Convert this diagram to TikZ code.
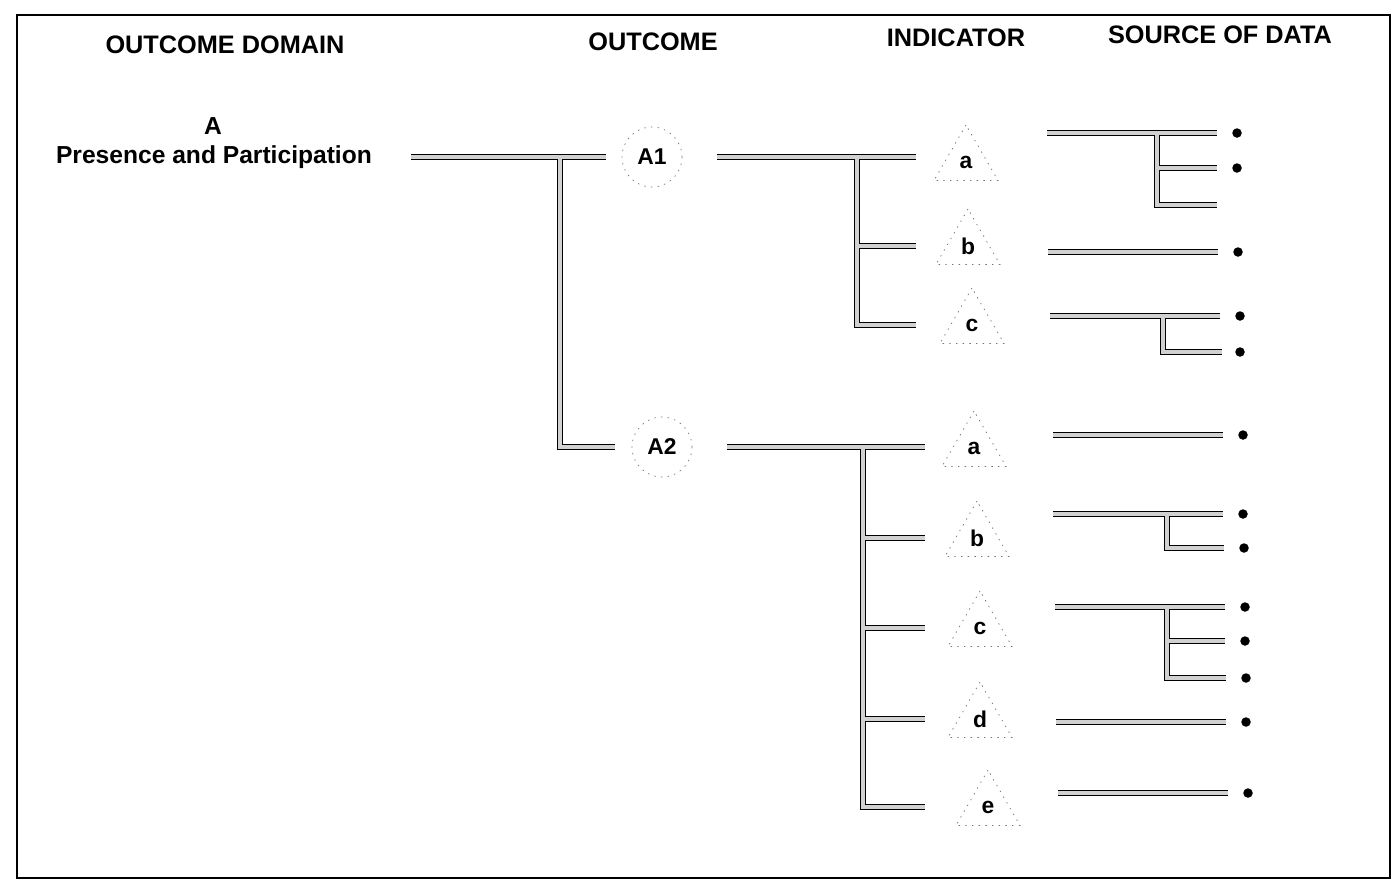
\documentclass[tikz,border=0pt]{standalone}
\usepackage{fontspec}
\setmainfont{Liberation Sans}
\usepackage{tikz}
\usetikzlibrary{shapes.geometric, positioning}
\tikzstyle{head} = [font=\bfseries\fontsize{14}{17}\selectfont]
\tikzstyle{bar} = [draw=black, line width=0.6pt, double=black!18, double distance=0.8mm]
\tikzstyle{outc} = [circle, draw=black!55, dash pattern=on 0.8pt off 3pt, minimum size=12mm, inner sep=0pt, font=\bfseries\fontsize{13}{15}\selectfont]
\tikzstyle{indic} = [regular polygon, regular polygon sides=3, draw=black!55, dash pattern=on 0.8pt off 3pt, minimum size=14.8mm, inner sep=0pt, font=\bfseries\fontsize{13}{15}\selectfont]
\tikzstyle{dot} = [circle, fill=black, inner sep=0pt, minimum size=1.9mm]

\begin{document}
\begin{tikzpicture}[x=0.2mm,y=-0.2mm]
	\useasboundingbox (0,0) rectangle (1400,884);
	\draw[line width=0.9pt] (17,15) rectangle (1390,878);
	
	% Headings:
	\node[head, font=\bfseries\fontsize{14.4}{17}\selectfont] (hDomain) at (225,45) {OUTCOME DOMAIN};
	\node[head, font=\bfseries\fontsize{14.4}{17}\selectfont] (hOutcome) at (653,42) {OUTCOME};
	\node[head, font=\bfseries\fontsize{14.4}{17}\selectfont] (hIndicator) at (956,38) {INDICATOR};
	\node[head, font=\bfseries\fontsize{14.4}{17}\selectfont] (hSource) at (1220,35) {SOURCE OF DATA};
	
	% Outcome domain:
	\node[head] (domAlabel) at (213,126) {A};
	\node[head] (domA) at (214,157) {Presence and Participation};
	
	% Outcomes:
	\node[outc] (outA1) at (652,157) {A1};
	\node[outc] (outA2) at (662,447) {A2};
	\coordinate (jA) at (560,0);
	\draw[bar] ([xshift=6.6mm]domA.east) -- ([xshift=-3.2mm]outA1.west)
		(jA |- outA1) |- ([xshift=-3.4mm]outA2.west);
	
	% Indicators of A1:
	\node[indic] (indA1a) at (966,162) {a};
	\node[indic] (indA1b) at (968,246) {b};
	\node[indic] (indA1c) at (972,325) {c};
	\coordinate (jA1) at (857,0);
	\coordinate (eA1) at (916,0);
	\draw[bar] ([xshift=7mm]outA1.east) -- (eA1 |- outA1)
		(jA1 |- outA1) |- (eA1 |- indA1c)
		(jA1 |- indA1b) -- (eA1 |- indA1b);
	
	% Indicators of A2:
	\node[indic] (indA2a) at (974,448) {a};
	\node[indic] (indA2b) at (977,538) {b};
	\node[indic] (indA2c) at (980,628) {c};
	\node[indic] (indA2d) at (980,719) {d};
	\node[indic] (indA2e) at (988,807) {e};
	\coordinate (jA2) at (863,0);
	\coordinate (eA2) at (925,0);
	\draw[bar] ([xshift=7mm]outA2.east) -- (eA2 |- outA2)
		(jA2 |- outA2) |- (eA2 |- indA2e)
		(jA2 |- indA2b) -- (eA2 |- indA2b)
		(jA2 |- indA2c) -- (eA2 |- indA2c)
		(jA2 |- indA2d) -- (eA2 |- indA2d);
	
	% Source of data:
	\foreach \n/\x/\y in {A1a1/1237/133, A1a2/1237/168, A1b1/1238/252, A1c1/1240/316, A1c2/1240/352,
		A2a1/1243/435, A2b1/1243/514, A2b2/1244/548, A2c1/1245/607, A2c2/1245/641, A2c3/1246/678,
		A2d1/1246/722, A2e1/1248/793}
	{
		\node[dot] (src\n) at (\x,\y) {};
	}
	\coordinate (srcA1a3) at (1237,205);
	
	% single sources
	\foreach \n in {A1b1, A2a1, A2d1, A2e1}
	{
		\draw[bar] ([xshift=-38mm]src\n.center) -- ([xshift=-4mm]src\n.center);
	}
	
	% branching sources
	\draw[bar] ([xshift=-38mm]srcA1a1.center) -- ([xshift=-4mm]srcA1a1.center)
		([xshift=-16mm]srcA1a1.center) |- ([xshift=-4mm]srcA1a3)
		([xshift=-16mm]srcA1a2.center) -- ([xshift=-4mm]srcA1a2.center);
	\draw[bar] ([xshift=-38mm]srcA1c1.center) -- ([xshift=-4mm]srcA1c1.center)
		([xshift=-15.4mm]srcA1c1.center) |- ([xshift=-3.6mm]srcA1c2.center);
	\draw[bar] ([xshift=-38mm]srcA2b1.center) -- ([xshift=-4mm]srcA2b1.center)
		([xshift=-15.2mm]srcA2b1.center) |- ([xshift=-4mm]srcA2b2.center);
	\draw[bar] ([xshift=-38mm]srcA2c1.center) -- ([xshift=-4mm]srcA2c1.center)
		([xshift=-15.6mm]srcA2c1.center) |- ([xshift=-4mm]srcA2c3.center)
		([xshift=-15.6mm]srcA2c2.center) -- ([xshift=-4mm]srcA2c2.center);
	
\end{tikzpicture}
\end{document}
